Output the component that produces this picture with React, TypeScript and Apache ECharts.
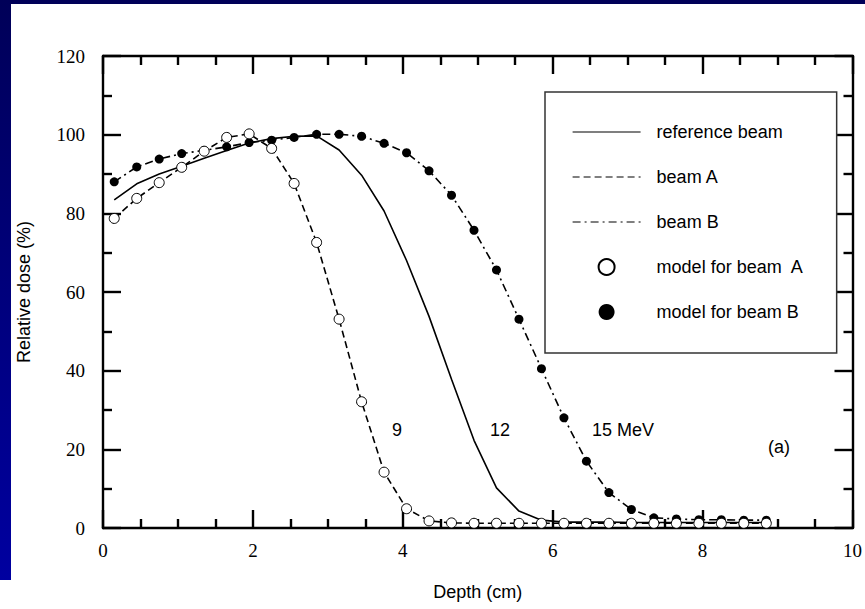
import React, { useEffect, useRef } from "react";
import * as echarts from "echarts";

// Depth (cm) of sampled points
const depth = [
  0.15, 0.45, 0.75, 1.05, 1.35, 1.65, 1.95, 2.25, 2.55, 2.85,
  3.15, 3.45, 3.75, 4.05, 4.35, 4.65, 4.95, 5.25, 5.55, 5.85,
  6.15, 6.45, 6.75, 7.05, 7.35, 7.65, 7.95, 8.25, 8.55, 8.85,
];

// Reference beam (12 MeV), solid line
const referenceBeam = [
  83.4, 87.5, 90.0, 92.0, 94.0, 96.0, 97.9, 99.0, 99.6, 99.7,
  96.1, 89.7, 80.6, 68.0, 53.8, 37.8, 22.3, 10.2, 4.3, 2.0,
  1.5, 1.5, 1.5, 1.4, 1.4, 1.4, 1.4, 1.4, 1.4, 1.4,
];

// Beam A (9 MeV)
const beamA = [
  78.7, 83.8, 87.8, 91.7, 95.8, 99.3, 100.2, 96.5, 87.6, 72.6,
  53.1, 32.1, 14.2, 4.9, 1.8, 1.3, 1.2, 1.2, 1.2, 1.2,
  1.2, 1.2, 1.2, 1.2, 1.2, 1.2, 1.2, 1.2, 1.2, 1.2,
];

// Beam B (15 MeV)
const beamB = [
  88.0, 91.8, 93.8, 95.2, 96.0, 96.9, 98.0, 98.6, 99.3, 100.1,
  100.1, 99.6, 97.8, 95.4, 90.8, 84.6, 75.7, 65.6, 53.1, 40.5,
  28.0, 17.0, 9.0, 4.7, 2.6, 2.3, 2.1, 2.1, 2.0, 2.0,
];

const seriesNames = [
  "reference beam",
  "beam A",
  "beam B",
  "model for beam  A",
  "model for beam B",
];

const annotations = [
  { text: "9", x: 397, y: 430 },
  { text: "12", x: 500, y: 430 },
  { text: "15 MeV", x: 623, y: 430 },
  { text: "(a)", x: 779, y: 447 },
];

const SANS = '"Liberation Sans", Arial, sans-serif';
const SERIF = '"Liberation Serif", "Times New Roman", serif';

const pairs = (ys: number[]) => depth.map((d, i) => [d, ys[i]]);

const AXIS_W = 2.4;

const axisCommon = {
  axisLine: { show: true, onZero: false, lineStyle: { color: "#000", width: AXIS_W } },
  axisTick: { show: true, inside: true, length: 18, lineStyle: { color: "#000", width: AXIS_W } },
  splitLine: { show: false },
  minorSplitLine: { show: false },
};

export default function App() {
  const ref = useRef<HTMLDivElement>(null);
  useEffect(() => {
    if (!ref.current) return;
    const chart = echarts.init(ref.current, null, { renderer: "svg" });
    const xBase = {
      type: "value",
      min: 0,
      max: 10,
      interval: 2,
      ...axisCommon,
      minorTick: { show: true, splitNumber: 4, length: 9, lineStyle: { color: "#000", width: AXIS_W } },
    };
    const yBase = {
      type: "value",
      min: 0,
      max: 120,
      interval: 20,
      ...axisCommon,
      minorTick: { show: true, splitNumber: 2, length: 9, lineStyle: { color: "#000", width: AXIS_W } },
    };
    chart.setOption({
      animation: false,
      backgroundColor: "#fff",
      grid: { left: 103, right: 8, top: 56, bottom: 81 },
      xAxis: [
        {
          ...xBase,
          position: "bottom",
          name: "Depth (cm)",
          nameLocation: "middle",
          nameGap: 55,
          nameTextStyle: { fontFamily: SANS, fontSize: 18, color: "#000" },
          axisLabel: { fontFamily: SERIF, fontSize: 19, color: "#000", margin: 13 },
        },
        { ...xBase, position: "top", axisLabel: { show: false } },
      ],
      yAxis: [
        {
          ...yBase,
          position: "left",
          name: "Relative dose (%)",
          nameLocation: "middle",
          nameGap: 70,
          nameTextStyle: { fontFamily: SANS, fontSize: 18, color: "#000" },
          axisLabel: { fontFamily: SERIF, fontSize: 19, color: "#000", margin: 18 },
        },
        { ...yBase, position: "right", axisLabel: { show: false } },
      ],
      legend: {
        orient: "vertical",
        left: 545,
        top: 92,
        padding: [30, 33, 31, 27],
        itemWidth: 68,
        itemHeight: 16,
        itemGap: 25,
        selectedMode: false,
        borderColor: "#333",
        borderWidth: 1.5,
        backgroundColor: "#fff",
        data: seriesNames.map((name, i) =>
          i < 3 ? { name, itemStyle: { opacity: 0 } } : { name }
        ),
        lineStyle: { width: 1.2 },
        textStyle: {
          fontFamily: SANS,
          fontSize: 18,
          color: "#000",
          lineHeight: 20,
          padding: [0, 0, 0, 11],
        },
      },
      graphic: [
        { type: "rect", shape: { x: 0, y: 0, width: 865, height: 4 }, style: { fill: "#000058" }, z: 100 },
        {
          type: "rect",
          shape: { x: 0, y: 0, width: 11, height: 580 },
          style: {
            fill: new echarts.graphic.LinearGradient(0, 0, 0, 1, [
              { offset: 0, color: "#000058" },
              { offset: 1, color: "#0000a0" },
            ]),
          },
          z: 100,
        },
        ...annotations.map((a) => ({
          type: "text",
          x: a.x,
          y: a.y,
          style: {
            text: a.text,
            font: `18px ${SANS}`,
            fill: "#000",
            textAlign: "center",
            textVerticalAlign: "middle",
          },
        })),
      ],
      series: [
        {
          name: seriesNames[0],
          type: "line",
          data: pairs(referenceBeam),
          symbol: "none",
          lineStyle: { color: "#000", width: 1.6, type: "solid" },
          itemStyle: { color: "#000" },
          z: 2,
        },
        {
          name: seriesNames[1],
          type: "line",
          data: pairs(beamA),
          symbol: "none",
          lineStyle: { color: "#000", width: 1.6, type: [7, 4] },
          itemStyle: { color: "#000" },
          z: 2,
        },
        {
          name: seriesNames[2],
          type: "line",
          data: pairs(beamB),
          symbol: "none",
          lineStyle: { color: "#000", width: 1.6, type: [8, 4, 2, 4] },
          itemStyle: { color: "#000" },
          z: 2,
        },
        {
          name: seriesNames[3],
          type: "scatter",
          data: pairs(beamA),
          symbol: "circle",
          symbolSize: 10,
          itemStyle: { color: "#fff", borderColor: "#000", borderWidth: 1, opacity: 1 },
          z: 4,
        },
        {
          name: seriesNames[4],
          type: "scatter",
          data: pairs(beamB),
          symbol: "circle",
          symbolSize: 9,
          itemStyle: { color: "#000", opacity: 1 },
          z: 3,
        },
      ],
    });
    return () => chart.dispose();
  }, []);
  return (
    <div
      ref={ref}
      style={{ position: "absolute", left: 0, top: 0, width: 865, height: 609 }}
    />
  );
}
